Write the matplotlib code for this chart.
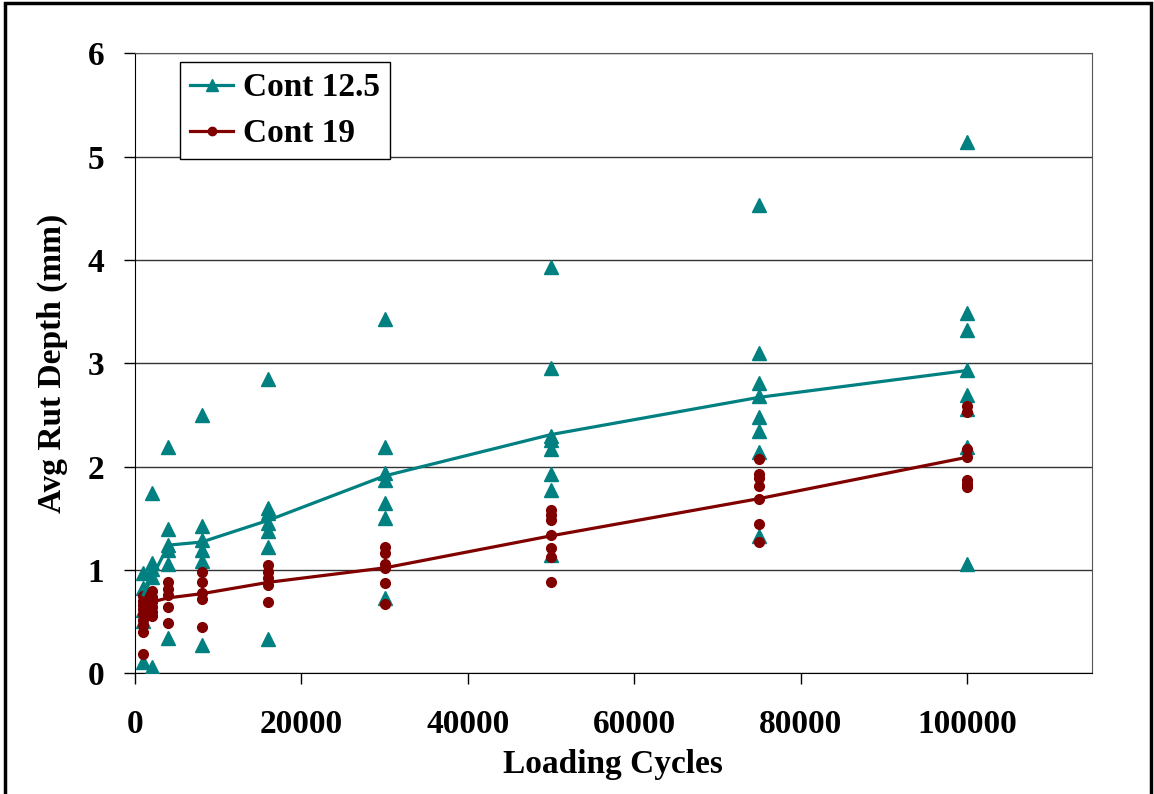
import matplotlib
matplotlib.use('Agg')
import matplotlib.pyplot as plt
from matplotlib.lines import Line2D
from matplotlib.patches import Rectangle

# loading cycles where rut depth was measured
cycles = [1000, 2000, 4000, 8000, 16000, 30000, 50000, 75000, 100000]

# individual readings, Cont 12.5 (one list per cycle count)
cont125_pts = [
    [0.97, 0.83, 0.61, 0.51, 0.11],
    [1.74, 1.07, 1.01, 0.93, 0.06],
    [2.19, 1.40, 1.24, 1.19, 1.06, 0.34],
    [2.50, 1.43, 1.29, 1.19, 1.09, 0.27],
    [2.85, 1.60, 1.55, 1.45, 1.38, 1.22, 0.33],
    [3.43, 2.19, 1.94, 1.87, 1.65, 1.50, 0.73],
    [3.93, 2.95, 2.30, 2.26, 2.17, 1.93, 1.77, 1.14],
    [4.53, 3.10, 2.81, 2.68, 2.48, 2.34, 2.14, 1.33],
    [5.14, 3.49, 3.32, 2.93, 2.69, 2.56, 2.19, 1.06],
]
cont125_avg = [0.76, 0.92, 1.24, 1.27, 1.48, 1.91, 2.31, 2.67, 2.93]

# individual readings, Cont 19
cont19_pts = [
    [0.75, 0.70, 0.66, 0.62, 0.57, 0.52, 0.47, 0.40, 0.19],
    [0.80, 0.74, 0.69, 0.64, 0.59, 0.55],
    [0.88, 0.82, 0.76, 0.64, 0.49],
    [0.98, 0.88, 0.78, 0.72, 0.45],
    [1.05, 0.98, 0.92, 0.85, 0.69],
    [1.22, 1.16, 1.06, 1.02, 0.87, 0.67],
    [1.58, 1.53, 1.48, 1.34, 1.21, 1.13, 0.88],
    [2.07, 1.93, 1.89, 1.81, 1.69, 1.44, 1.27],
    [2.59, 2.53, 2.17, 2.09, 1.87, 1.83, 1.80],
]
cont19_avg = [0.66, 0.69, 0.73, 0.77, 0.88, 1.02, 1.33, 1.69, 2.09]

teal = '#008080'
maroon = '#800000'

plt.rcParams['font.family'] = ['Liberation Serif', 'DejaVu Serif']
plt.rcParams['font.weight'] = 'bold'

fig = plt.figure(figsize=(11.54, 7.94), dpi=100)
ax = fig.add_axes([0.117, 0.152, 0.829, 0.781])

x125, y125 = [], []
for c, pts in zip(cycles, cont125_pts):
    x125 += [c] * len(pts)
    y125 += pts
x19, y19 = [], []
for c, pts in zip(cycles, cont19_pts):
    x19 += [c] * len(pts)
    y19 += pts

ax.plot(x125, y125, linestyle='none', marker='^', ms=10, color=teal, zorder=3)
ax.plot(x19, y19, linestyle='none', marker='o', ms=7, color=maroon, zorder=4)
ax.plot(cycles, cont125_avg, color=teal, lw=2.3, zorder=5)
ax.plot(cycles, cont19_avg, color=maroon, lw=2.3, zorder=5)

ax.set_xlim(0, 115000)
ax.set_ylim(0, 6)
ax.set_xticks(range(0, 100001, 20000))
ax.set_yticks(range(0, 7))
ax.yaxis.grid(True, color='#333333', lw=1)
ax.set_axisbelow(True)
ax.tick_params(direction='out', length=8, width=1, labelsize=24)
ax.tick_params(axis='x', pad=18)
ax.tick_params(axis='y', pad=14)
for lab in ax.get_xticklabels() + ax.get_yticklabels():
    lab.set_fontweight('bold')
for s in ['top', 'right']:
    ax.spines[s].set_color('#555555')
ax.spines['left'].set_color('black')
ax.spines['bottom'].set_color('black')

ax.set_xlabel('Loading Cycles', fontsize=24, fontweight='bold', labelpad=6)
ax.set_ylabel('Avg Rut Depth (mm)', fontsize=24, fontweight='bold', labelpad=14)

handles = [
    Line2D([], [], color=teal, lw=2.3, marker='^', ms=9),
    Line2D([], [], color=maroon, lw=2.3, marker='o', ms=6),
]
leg = ax.legend(handles, ['Cont 12.5', 'Cont 19'], loc='upper left',
                bbox_to_anchor=(0.047, 0.985), borderaxespad=0,
                fancybox=False, framealpha=1,
                edgecolor='black', prop={'size': 24, 'weight': 'bold'},
                handlelength=1.3, handletextpad=0.3, borderpad=0.3,
                labelspacing=0.45)
leg.get_frame().set_linewidth(1)

fig.patches.append(Rectangle((0.004, -0.01), 0.993, 1.006, transform=fig.transFigure,
                             fill=False, edgecolor='black', lw=2.5))

fig.savefig('out.png', dpi=100)
